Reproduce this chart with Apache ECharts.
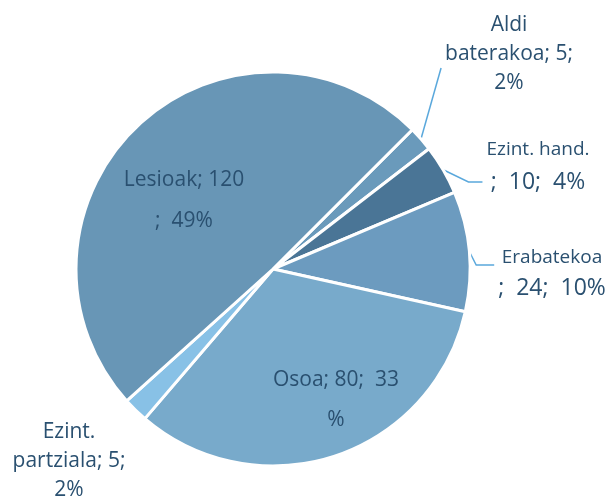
<!DOCTYPE html>
<html>
<head>
<meta charset="utf-8">
<script src="https://cdn.jsdelivr.net/npm/echarts@6/dist/echarts.min.js"></script>
<style>
  html, body { margin: 0; padding: 0; background: #fff; }
  #graph { width: 613px; height: 499px; }
</style>
</head>
<body>
<div id="graph"></div>
<script>
// slices, clockwise from the top right
const names = ['Aldi baterakoa', 'Ezint. hand.', 'Erabatekoa', 'Osoa', 'Ezint. partziala', 'Lesioak'];
const values = [5, 10, 24, 80, 5, 120];
const colors = ['#6a9abb', '#4a7596', '#6c9bbf', '#78aacb', '#88c1e6', '#6896b6'];

// label layout (block centres + line heights), as wrapped in the original
const labelPos = [[509, 54], [538, 166], [552, 273], [336, 400], [69, 461], [184, 201]];
const lineHeights = [29, 33, 30, 40, 29, 41];

function labelText(i, name, value, pct) {
  switch (i) {
    case 0: return 'Aldi\nbaterakoa; ' + value + ';\n' + pct + '%';
    case 1: return '{s|' + name + '}\n{b|;  ' + value + ';  ' + pct + '%}';
    case 2: return '{s|' + name + '}\n{b|;  ' + value + ';  ' + pct + '%}';
    case 3: return name + '; ' + value + ';  ' + pct + '\n%';
    case 4: return 'Ezint.\npartziala; ' + value + ';\n' + pct + '%';
    default: return name + '; ' + value + '\n;  ' + pct + '%';
  }
}

const myChart = echarts.init(document.getElementById('graph'));

const pieData = names.map((n, i) => ({
  name: n,
  value: values[i],
  itemStyle: { color: colors[i] },
  label: { lineHeight: lineHeights[i] },
  labelLine: { show: i < 3 }
}));

myChart.setOption({
  backgroundColor: '#fff',
  animation: false,
  series: [{
    type: 'pie',
    center: [273, 269],
    radius: [0, 197],
    startAngle: 45,
    clockwise: true,
    avoidLabelOverlap: false,
    data: pieData,
    itemStyle: {
      borderColor: '#fff',
      borderWidth: 3
    },
    label: {
      show: true,
      position: 'outside',
      color: '#2a5070',
      fontFamily: 'Open Sans',
      fontSize: 21,
      formatter: function (p) {
        return labelText(p.dataIndex, p.name, p.value, Math.round(p.percent));
      },
      rich: {
        s: { fontSize: 19, color: '#2a5070', fontFamily: 'Open Sans' },
        b: { fontSize: 23, color: '#2a5070', fontFamily: 'Open Sans' }
      }
    },
    labelLine: {
      lineStyle: { color: '#5aa8dc', width: 1.5 }
    },
    labelLayout: function (p) {
      const i = p.dataIndex;
      const cx = labelPos[i][0], cy = labelPos[i][1];
      const left = cx - p.labelRect.width / 2;
      const out = { x: cx, y: cy, align: 'center', verticalAlign: 'middle' };
      const start = p.labelLinePoints ? p.labelLinePoints[0] : null;
      if (start) {
        if (i === 0) {
          out.labelLinePoints = [start, [left - 4, cy + 14], [left - 4, cy + 14]];
        } else if (i === 1) {
          out.labelLinePoints = [start, [left - 18, cy + 16], [left - 4, cy + 16]];
        } else if (i === 2) {
          out.labelLinePoints = [start, [left - 22, cy - 8], [left - 4, cy - 8]];
        }
      }
      return out;
    }
  }]
});
</script>
</body>
</html>
